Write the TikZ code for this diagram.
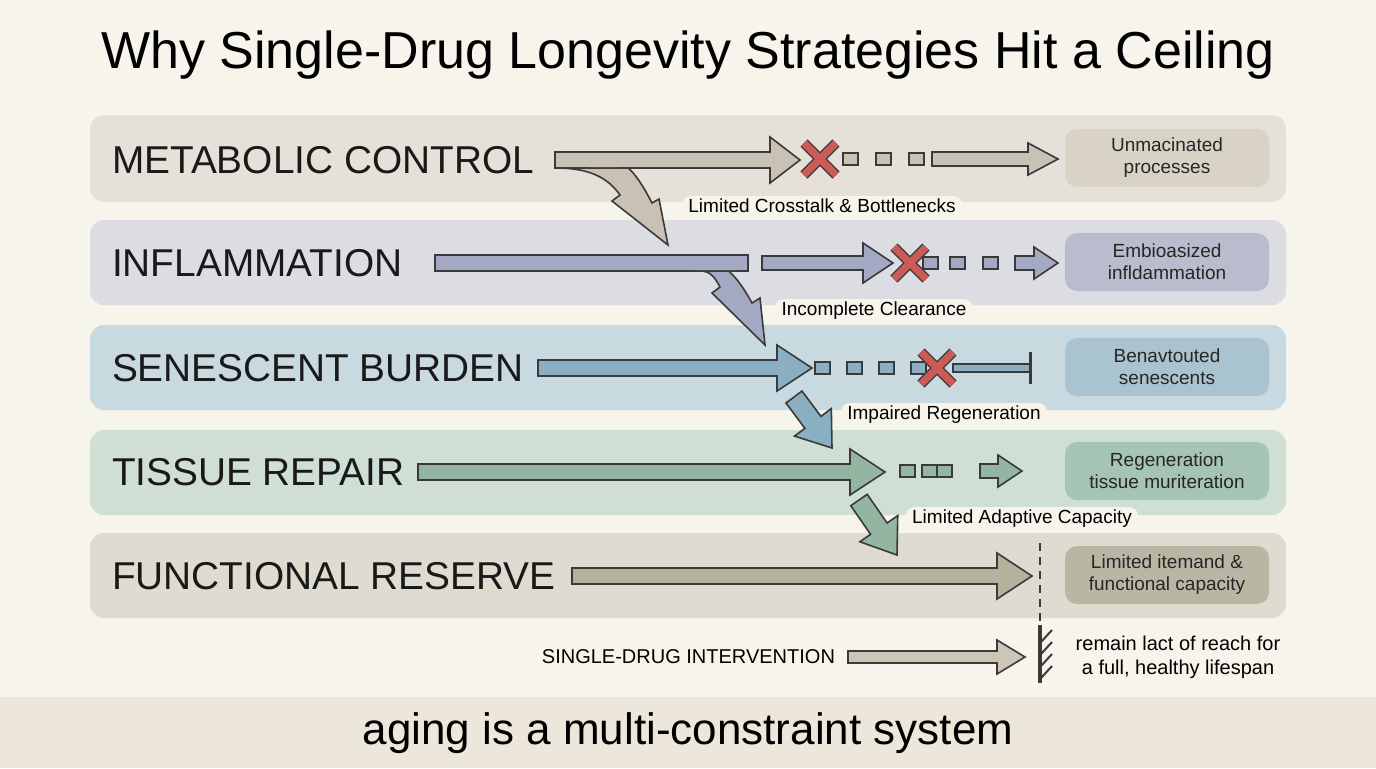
\documentclass[tikz,border=0pt]{standalone}
\usepackage{fontspec}
\setmainfont{Liberation Sans}
\usetikzlibrary{calc}
\definecolor{bg}{HTML}{F7F4EC}
\definecolor{bot}{HTML}{ECE7DA}
\definecolor{bandA}{HTML}{E6E1D8}\definecolor{boxA}{HTML}{D9D3C6}\definecolor{arrA}{HTML}{C9C1B3}
\definecolor{bandB}{HTML}{DCDCE3}\definecolor{boxB}{HTML}{B8BCCD}\definecolor{arrB}{HTML}{A3A9C2}
\definecolor{bandC}{HTML}{C9D9E0}\definecolor{boxC}{HTML}{A9C3D0}\definecolor{arrC}{HTML}{8AAEC2}
\definecolor{bandD}{HTML}{CFDFD6}\definecolor{boxD}{HTML}{A6C4B4}\definecolor{arrD}{HTML}{94B5A2}
\definecolor{bandE}{HTML}{DEDBD0}\definecolor{boxE}{HTML}{B9B7A3}\definecolor{arrE}{HTML}{B5B19C}
\definecolor{arrF}{HTML}{CDC5B5}
\definecolor{xred}{HTML}{CC5A55}
\definecolor{ink}{HTML}{3A3A3A}
\newcommand{\barrow}[6]{%
 \pgfmathsetmacro\ww{#3*0.25}\pgfmathsetmacro\HH{#4*0.25}\pgfmathsetmacro\hh{#5*0.5}%
 \coordinate (s) at #1; \coordinate (t) at #2;
 \coordinate (hb) at ($(t)!\hh pt!(s)$);
 \filldraw[ar,fill=#6] ($(s)!\ww pt!90:(t)$) -- ($(hb)!\ww pt!-90:(s)$) -- ($(hb)!\HH pt!-90:(s)$) -- (t)
   -- ($(hb)!\HH pt!90:(s)$) -- ($(hb)!\ww pt!90:(s)$) -- ($(s)!\ww pt!-90:(t)$) -- cycle;}
\newcommand{\xmark}[1]{%
 \draw[ink,line width=5pt] ($#1+(-16,-16)$) -- ($#1+(16,16)$) ($#1+(-16,16)$) -- ($#1+(16,-16)$);
 \draw[xred,line width=3.6pt] ($#1+(-16,-16)$) -- ($#1+(16,16)$) ($#1+(-16,16)$) -- ($#1+(16,-16)$);}
\newcommand{\sq}[3]{\filldraw[ar,fill=#3] (#1,#2-6) rectangle (#1+15,#2+6);}
\begin{document}
\begin{tikzpicture}[x=0.5pt,y=-0.5pt,
  ar/.style={draw=ink,line width=0.8pt,line join=miter},
  band/.style={rounded corners=7pt},
  rowlab/.style={anchor=west,font=\fontsize{19.4}{21}\selectfont,text=black!90},
  rbox/.style={rounded corners=6pt,minimum width=102pt,minimum height=29pt,align=center,font=\fontsize{9.5}{11}\selectfont,text=black!85,inner sep=1pt},
  tag/.style={fill=bg,rounded corners=4pt,inner xsep=3pt,inner ysep=1.5pt,font=\fontsize{9.5}{11}\selectfont}]
\fill[bg] (0,0) rectangle (1376,768);
\useasboundingbox (0,0) rectangle (1376,768);
\fill[bot] (0,697) rectangle (1376,768);
\node (title) at (688,55) {\fontsize{26}{30}\selectfont Why Single-Drug Longevity Strategies Hit a Ceiling};
\node (foot) at (688,733) {\fontsize{22}{26}\selectfont aging is a multi-constraint system};
% bands
\fill[band,bandA] (90,115) rectangle (1286,202);
\fill[band,bandB] (90,220) rectangle (1286,305);
\fill[band,bandC] (90,325) rectangle (1286,410);
\fill[band,bandD] (90,430) rectangle (1286,515);
\fill[band,bandE] (90,533) rectangle (1286,618);
\node[rowlab] (r1) at (105,160) {METABOLIC CONTROL};
\node[rowlab] (r2) at (105,263) {INFLAMMATION};
\node[rowlab] (r3) at (105,368) {SENESCENT BURDEN};
\node[rowlab] (r4) at (105,472) {TISSUE REPAIR};
\node[rowlab] (r5) at (105,576) {FUNCTIONAL RESERVE};
\node[rbox,fill=boxA] (b1) at (1167,158) {Unmacinated\\processes};
\node[rbox,fill=boxB] (b2) at (1167,262) {Embioasized\\infldammation};
\node[rbox,fill=boxC] (b3) at (1167,367) {Benavtouted\\senescents};
\node[rbox,fill=boxD] (b4) at (1167,471) {Regeneration\\tissue muriteration};
\node[rbox,fill=boxE] (b5) at (1167,575) {Limited itemand \&\\functional capacity};
% row 1: curved branch
\filldraw[ar,fill=arrA] (556,160) -- (556,168) .. controls (590,168) and (608,178) .. (620,195)
  -- (612,201) -- (668,245) -- (659,199) -- (652,203) .. controls (640,180) and (630,165) .. (615,160) -- cycle;
\barrow{(555,160)}{(800,160)}{16}{46}{30}{arrA}
\fill[arrA] (557,161) -- (612,161) -- (618,167) -- (590,167) -- cycle;
\sq{843}{159}{arrA}\sq{876}{159}{arrA}\sq{909}{159}{arrA}
\barrow{(932,159)}{(1058,159)}{14}{32}{30}{arrA}
\xmark{(820,159)}
% row 2
\filldraw[ar,fill=arrB] (690,263) -- (690,271) -- (700,271) .. controls (710,271) and (714,276) .. (720,287)
  -- (712,293) -- (765,345) -- (760,298) -- (752,303) .. controls (742,285) and (728,263) .. (710,263) -- cycle;
\filldraw[ar,fill=arrB] (435,255) rectangle (748,271);
\fill[arrB] (691,256) -- (730,256) -- (738,270) -- (691,270) -- cycle;
\barrow{(762,263)}{(893,263)}{14}{40}{30}{arrB}
\sq{923}{263}{arrB}\sq{950}{263}{arrB}\sq{983}{263}{arrB}
\xmark{(910,263)}
\barrow{(1015,263)}{(1058,263)}{14}{32}{24}{arrB}
% row 3
\barrow{(538,368)}{(812,368)}{16}{46}{35}{arrC}
\sq{815}{368}{arrC}\sq{847}{368}{arrC}\sq{879}{368}{arrC}\sq{911}{368}{arrC}
\filldraw[ar,fill=arrC] (953,364) rectangle (1030,372);
\draw[ink,line width=1.5pt] (1030,352) -- (1030,384);
\xmark{(937,368)}
\barrow{(794,397)}{(832,448)}{20}{46}{32}{arrC}
% row 4
\barrow{(418,472)}{(885,472)}{16}{46}{35}{arrD}
\sq{900}{471}{arrD}\sq{922}{471}{arrD}\sq{937}{471}{arrD}
\barrow{(980,471)}{(1022,471)}{14}{32}{24}{arrD}
\barrow{(859,500)}{(897,555)}{20}{46}{32}{arrD}
% row 5
\barrow{(572,576)}{(1032,576)}{16}{46}{35}{arrE}
\draw[ink,line width=0.9pt,dash pattern=on 4pt off 3pt] (1040,543) -- (1040,622);
% tags
\node[tag] (t1) at (822,206) {Limited Crosstalk \& Bottlenecks};
\node[tag] (t2) at (874,311) {Incomplete Clearance};
\node[tag] (t3) at (944,415) {Impaired Regeneration};
\node[tag] (t4) at (1022,519) {Limited Adaptive Capacity};
% intervention
\node[anchor=east,font=\fontsize{10}{12}\selectfont] (si) at (842,657) {SINGLE-DRUG INTERVENTION};
\coordinate (wall) at (1040,654);
\barrow{(848,657)}{(1025,657)}{12}{34}{28}{arrF}
\draw[ink,line width=2pt] (1040,625) -- (1040,683);
\foreach \yy in {630,642,654,666}{\draw[ink,line width=1pt] (1041,\yy+12) -- (1052,\yy);}
\node[align=center,font=\fontsize{10}{12}\selectfont] (rm) at (1178,657) {remain lact of reach for\\ a full, healthy lifespan};
\end{tikzpicture}
\end{document}
